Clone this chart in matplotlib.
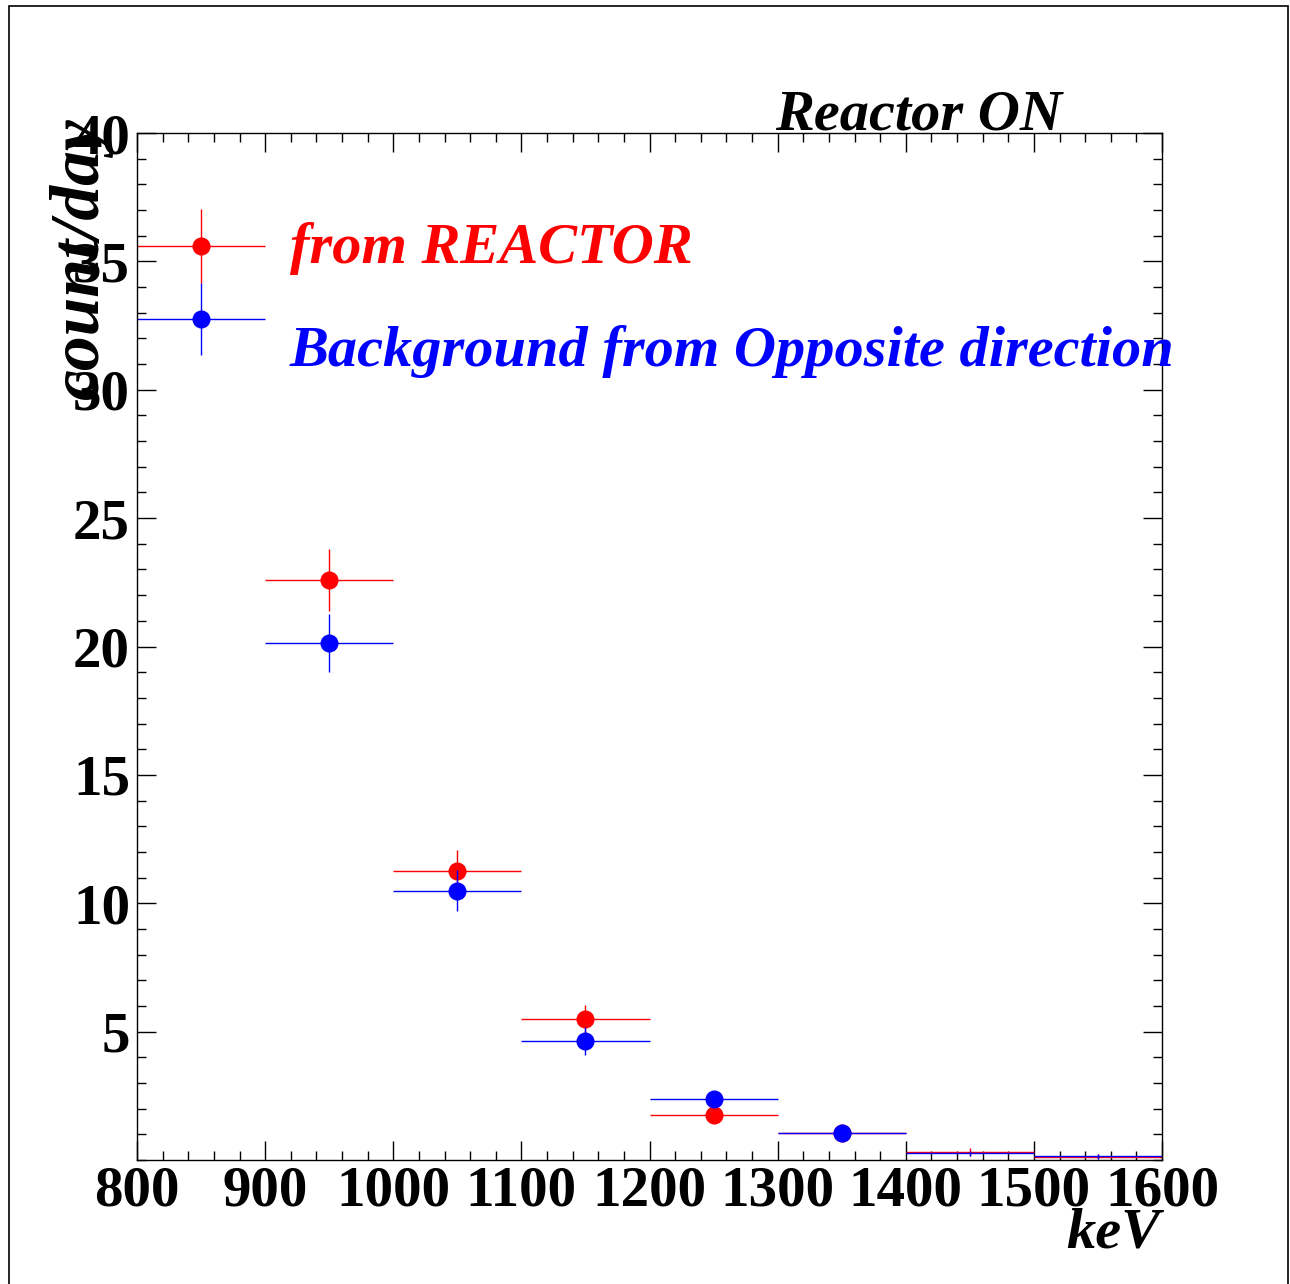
"""
Reactor ON: count rate vs energy, reactor direction vs opposite direction.
"""

import matplotlib

matplotlib.use('Agg')
import matplotlib.pyplot as plt
from matplotlib.patches import Rectangle
from matplotlib.ticker import MultipleLocator

# bins (keV)
bin_centers = [850, 950, 1050, 1150, 1250, 1350, 1450, 1550]
bin_half_width = [50, 50, 50, 50, 50, 50, 50, 50]

reactor_counts = [35.6, 22.6, 11.26, 5.49, 1.75, 1.05, 0.32, 0.13]
reactor_err = [1.45, 1.2, 0.8, 0.55, 0.3, 0.25, 0.15, 0.1]

opposite_counts = [32.76, 20.14, 10.48, 4.64, 2.38, 1.05, 0.27, 0.15]
opposite_err = [1.4, 1.13, 0.8, 0.55, 0.3, 0.25, 0.1, 0.1]

n_marked = 6  # markers only drawn on the first bins

x_ticks = [800, 900, 1000, 1100, 1200, 1300, 1400, 1500, 1600]
y_ticks = [5, 10, 15, 20, 25, 30, 35, 40]

W, H = 1290, 1284
FONT = "Liberation Serif"
FS = 41

plt.rcParams["font.family"] = FONT
plt.rcParams["font.weight"] = "bold"

fig = plt.figure(figsize=(W / 100, H / 100), dpi=100)
ax = fig.add_axes([137 / W, 1 - 1160 / H, 1025 / W, 1027 / H])

ax.errorbar(bin_centers, reactor_counts, xerr=bin_half_width, yerr=reactor_err,
            fmt="none", ecolor="#ff0000", elinewidth=1.0, capsize=0)
ax.plot(bin_centers[:n_marked], reactor_counts[:n_marked], "o",
        color="#ff0000", markersize=13, markeredgewidth=0)

ax.errorbar(bin_centers, opposite_counts, xerr=bin_half_width, yerr=opposite_err,
            fmt="none", ecolor="#0000ff", elinewidth=1.0, capsize=0)
ax.plot(bin_centers[:n_marked], opposite_counts[:n_marked], "o",
        color="#0000ff", markersize=13, markeredgewidth=0)

ax.set_xlim(800, 1600)
ax.set_ylim(0, 40)
ax.set_xticks(x_ticks)
ax.set_xticklabels([str(v) for v in x_ticks])
ax.set_yticks(y_ticks)
ax.set_yticklabels([str(v) for v in y_ticks])
ax.xaxis.set_minor_locator(MultipleLocator(20))
ax.yaxis.set_minor_locator(MultipleLocator(1))

ax.tick_params(which="both", direction="in", top=True, right=True,
               width=1.0, color="black")
ax.tick_params(which="major", length=13.5)
ax.tick_params(which="minor", length=6.5)
ax.tick_params(axis="x", which="major", labelsize=FS, pad=4)
ax.tick_params(axis="y", which="major", labelsize=FS, pad=5)
for lab in ax.get_xticklabels() + ax.get_yticklabels():
    lab.set_fontweight("bold")
    lab.set_fontfamily(FONT)
for sp in ax.spines.values():
    sp.set_linewidth(1.0)

txt = dict(family=FONT, style="italic", weight="bold")

fig.text(1062 / W, 1 - 130 / H, "Reactor ON", ha="right", va="baseline",
         color="black", fontsize=42, **txt)
fig.text(1160 / W, 1 - 1248 / H, "keV", ha="right", va="baseline",
         color="black", fontsize=42, **txt)
fig.text(81 / W, 1 - 117 / H, "count/day", rotation=90, ha="center", va="top",
         color="black", fontsize=50, **txt)
fig.text(290 / W, 1 - 263 / H, "from REACTOR", ha="left", va="baseline",
         color="#ff0000", fontsize=42, **txt)
fig.text(290 / W, 1 - 366 / H, "Background from Opposite direction", ha="left",
         va="baseline", color="#0000ff", fontsize=42, **txt)

# canvas frame
fig.patches.append(Rectangle((9 / W, -0.01), (1288 - 9) / W, 1.01 - 6 / H,
                             transform=fig.transFigure, fill=False,
                             edgecolor="black", linewidth=1.2))

fig.savefig("out.png", dpi=100)
plt.close(fig)
